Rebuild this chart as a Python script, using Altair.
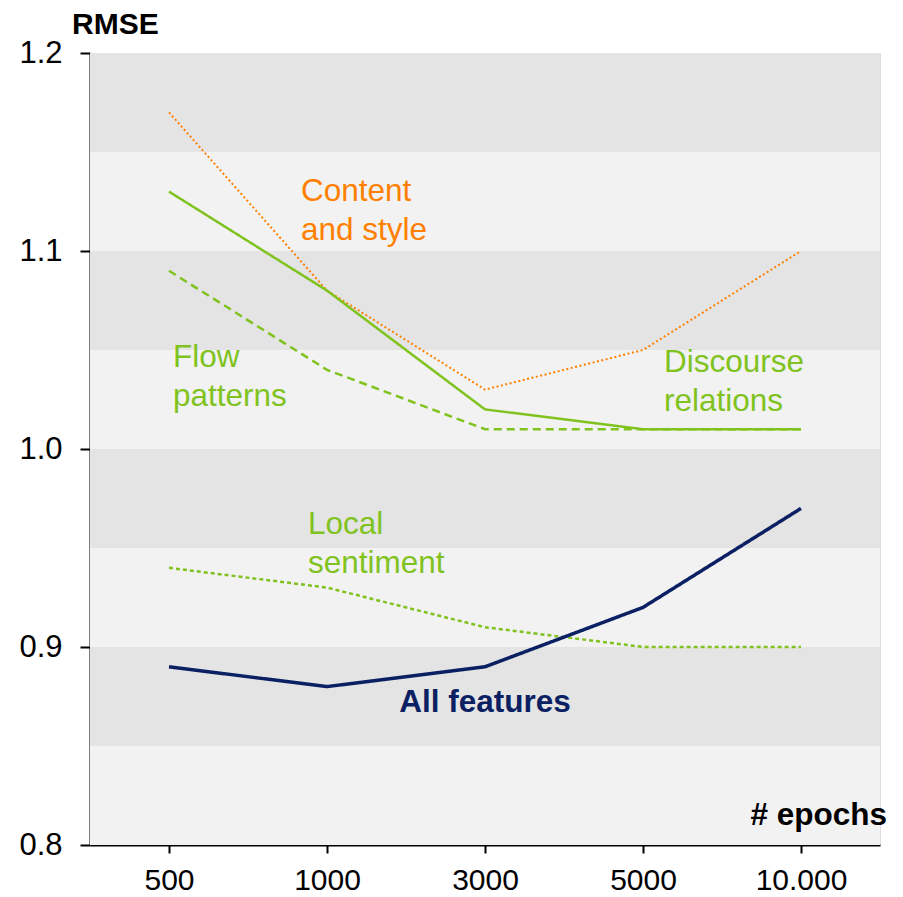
import altair as alt
import pandas as pd

epochs = ["500", "1000", "3000", "5000", "10.000"]
content_style = [1.17, 1.08, 1.03, 1.05, 1.10]
flow_patterns = [1.13, 1.08, 1.02, 1.01, 1.01]
discourse = [1.09, 1.04, 1.01, 1.01, 1.01]
local_sent = [0.94, 0.93, 0.91, 0.90, 0.90]
all_feat = [0.89, 0.88, 0.89, 0.92, 0.97]

band_lo = [0.80, 0.85, 0.90, 0.95, 1.00, 1.05, 1.10, 1.15]
band_hi = [0.85, 0.90, 0.95, 1.00, 1.05, 1.10, 1.15, 1.20]
band_col = ["#f2f2f2", "#e4e4e4", "#f2f2f2", "#e4e4e4", "#f2f2f2", "#e4e4e4", "#f2f2f2", "#e4e4e4"]

ORANGE = "#ff8000"
GREEN = "#80c21e"
NAVY = "#0b1f63"
FS = 31.5

series = [
    ("Content and style", content_style, ORANGE, [2, 2.5], 2),
    ("Flow patterns", flow_patterns, GREEN, [1, 0], 2.5),
    ("Discourse relations", discourse, GREEN, [8, 5], 2.5),
    ("Local sentiment", local_sent, GREEN, [4, 3], 2.5),
    ("All features", all_feat, NAVY, [1, 0], 3.5),
]

W, H = 790, 792
xscale = alt.Scale(domain=epochs, type="point", padding=0.5)
yscale = alt.Scale(domain=[0.8, 1.2], nice=False, zero=False)

bands = pd.DataFrame({"lo": band_lo, "hi": band_hi, "c": band_col})
bg = alt.Chart(bands).mark_rect().encode(
    x=alt.value(0), x2=alt.value(W),
    y=alt.Y("lo:Q", scale=yscale, axis=alt.Axis(
        values=[0.8, 0.9, 1.0, 1.1, 1.2], format=".1f", title=None, grid=False,
        domainColor="black", domainWidth=2, tickColor="black", tickWidth=2, tickSize=10,
        labelFontSize=31, labelColor="black", labelFont="Liberation Sans", labelPadding=18)),
    y2="hi:Q",
    color=alt.Color("c:N", scale=None),
)

layers = [bg]
for name, vals, col, dash, w in series:
    df = pd.DataFrame({"epochs": epochs, "rmse": vals})
    layers.append(
        alt.Chart(df).mark_line(color=col, strokeDash=dash, strokeWidth=w).encode(
            x=alt.X("epochs:N", scale=xscale, sort=epochs, axis=alt.Axis(
                title=None, grid=False, labelAngle=0, domainColor="black", domainWidth=2,
                tickColor="black", tickWidth=2, tickSize=8, labelFontSize=30,
                labelColor="black", labelFont="Liberation Sans", labelPadding=12)),
            y=alt.Y("rmse:Q", scale=yscale),
        )
    )

lab_text = ["Content\nand style", "Flow\npatterns", "Discourse\nrelations", "Local\nsentiment"]
lab_x = ["1000", "500", "5000", "1000"]
lab_y = [1.1298, 1.046, 1.0434, 0.9616]
lab_dx = [-26, 4, 21, -19]
lab_col = [ORANGE, GREEN, GREEN, GREEN]
for t, xx, yy, dx, c in zip(lab_text, lab_x, lab_y, lab_dx, lab_col):
    df = pd.DataFrame({"epochs": [xx], "rmse": [yy], "t": [t]})
    layers.append(alt.Chart(df).mark_text(
        align="left", baseline="middle", dx=dx, fontSize=FS, lineHeight=39,
        font="Liberation Sans", color=c, lineBreak="\n").encode(
        x=alt.X("epochs:N", scale=xscale), y=alt.Y("rmse:Q", scale=yscale), text="t:N"))

df_all = pd.DataFrame({"epochs": ["3000"], "rmse": [0.8717], "t": ["All features"]})
layers.append(alt.Chart(df_all).mark_text(
    align="center", baseline="middle", fontSize=FS, fontWeight="bold",
    font="Liberation Sans", color=NAVY).encode(
    x=alt.X("epochs:N", scale=xscale), y=alt.Y("rmse:Q", scale=yscale), text="t:N"))

df_rmse = pd.DataFrame({"t": ["RMSE"]})
layers.append(alt.Chart(df_rmse).mark_text(
    align="left", baseline="middle", fontSize=30, fontWeight="bold",
    font="Liberation Sans", color="black").encode(
    x=alt.value(-18), y=alt.value(-28), text="t:N"))

df_ep = pd.DataFrame({"t": ["# epochs"]})
layers.append(alt.Chart(df_ep).mark_text(
    align="right", baseline="middle", fontSize=FS, fontWeight="bold",
    font="Liberation Sans", color="black").encode(
    x=alt.value(W + 7), y=alt.value(H - 29), text="t:N"))

chart = alt.layer(*layers).properties(
    width=W, height=H,
    autosize=alt.AutoSizeParams(type="none"),
    padding={"left": 82, "top": 45, "right": 15, "bottom": 50},
).configure_view(stroke=None).configure(background="white")

chart.save("out.html", embed_options={"renderer": "svg", "actions": False})
